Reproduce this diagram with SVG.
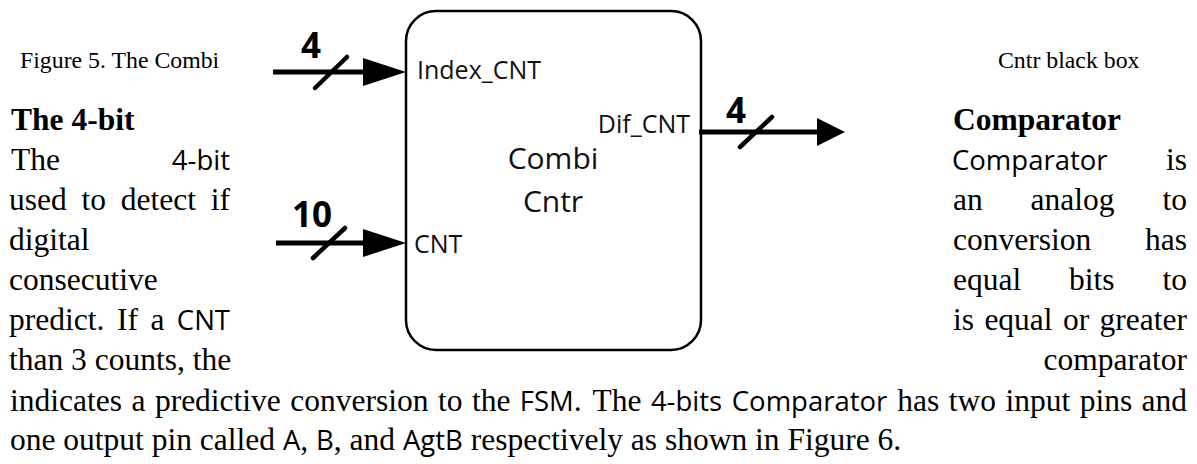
<svg xmlns="http://www.w3.org/2000/svg" width="1197" height="464" viewBox="0 0 1197 464">
  <style>
    .serif { font-family: "Liberation Serif", "Times New Roman", serif; font-size: 31.5px; fill: #000; }
    .bold { font-weight: bold; }
    .sans { font-family: "Open Sans", "Liberation Sans", sans-serif; font-size: 27.5px; }
    .caption { font-family: "Liberation Serif", "Times New Roman", serif; font-size: 23.8px; fill: #000; }
    .pin { font-family: "Open Sans", "Liberation Sans", sans-serif; font-size: 25px; fill: #111; }
    .title { font-family: "Open Sans", "Liberation Sans", sans-serif; font-size: 30px; fill: #111; text-anchor: middle; }
    .width { font-family: "Open Sans", "Liberation Sans", sans-serif; font-size: 35px; font-weight: bold; fill: #000; }
    .wire { stroke: #000; stroke-width: 5; fill: none; }
    .slash { stroke: #000; stroke-width: 4.5; stroke-linecap: round; fill: none; }
    .head { fill: #000; }
    .box { fill: #fff; stroke: #000; stroke-width: 2.5; }
    .end { text-anchor: end; }
  </style>

  <!-- surrounding page text -->
  <g id="page-text">
    <text class="caption" x="20" y="68">Figure 5. The Combi</text>
    <text class="caption" x="998" y="68">Cntr black box</text>

    <!-- left column -->
    <text class="serif bold" x="11" y="130">The 4-bit</text>
    <text class="serif" x="11" y="170">The</text>
    <text class="serif sans end" x="230" y="170">4-bit</text>
    <text class="serif" y="210"><tspan x="9">used</tspan><tspan x="81.5">to</tspan><tspan x="120.8">detect</tspan></text>
    <text class="serif end" x="230" y="210">if</text>
    <text class="serif" x="9" y="250">digital</text>
    <text class="serif" x="9" y="290">consecutive</text>
    <text class="serif" y="330"><tspan x="9">predict.</tspan><tspan x="117">If</tspan><tspan x="150.4">a</tspan></text>
    <text class="serif sans end" x="230" y="330">CNT</text>
    <text class="serif" x="9" y="370">than 3 counts, the</text>

    <!-- right column -->
    <text class="serif bold" x="953" y="130">Comparator</text>
    <text class="serif sans" x="952" y="170">Comparator</text>
    <text class="serif end" x="1187" y="170">is</text>
    <text class="serif" y="210"><tspan x="953">an</tspan><tspan x="1030.6">analog</tspan></text>
    <text class="serif end" x="1187" y="210">to</text>
    <text class="serif" x="953" y="250">conversion</text>
    <text class="serif end" x="1187" y="250">has</text>
    <text class="serif" y="290"><tspan x="953">equal</tspan><tspan x="1069">bits</tspan></text>
    <text class="serif end" x="1187" y="290">to</text>
    <text class="serif" y="330"><tspan x="953">is</tspan><tspan x="984.4">equal</tspan><tspan x="1063">or</tspan></text>
    <text class="serif end" x="1187" y="330">greater</text>
    <text class="serif end" x="1187" y="370">comparator</text>

    <!-- full-width lines -->
    <text class="serif" y="411"><tspan x="10">indicates</tspan><tspan x="131.4">a</tspan><tspan x="154.9">predictive</tspan><tspan x="290.3">conversion</tspan><tspan x="437.9">to</tspan><tspan x="471.9">the</tspan><tspan x="519.8" class="sans">FSM</tspan><tspan>.</tspan><tspan x="592.4">The</tspan><tspan x="650.9" class="sans">4-bits</tspan><tspan x="731.8" class="sans">Comparator</tspan><tspan x="897.3">has</tspan><tspan x="948.8">two</tspan><tspan x="1005.5">input</tspan><tspan x="1079.7">pins</tspan></text>
    <text class="serif end" x="1187" y="411">and</text>
    <text class="serif" x="10" y="450">one output pin called <tspan class="sans">A</tspan>, <tspan class="sans">B</tspan>, and <tspan class="sans">AgtB</tspan> respectively as shown in Figure 6.</text>
  </g>

  <!-- black box -->
  <g id="combi-cntr">
    <rect class="box" x="406" y="11" width="295" height="339" rx="30" ry="30"/>
    <text class="pin" x="417" y="79">Index_CNT</text>
    <text class="pin" x="414" y="253">CNT</text>
    <text class="pin end" x="690" y="133">Dif_CNT</text>
    <text class="title" x="553" y="169">Combi</text>
    <text class="title" x="553" y="212">Cntr</text>
  </g>

  <!-- bus connectors -->
  <g id="connectors">
    <g id="bus-index-cnt">
      <line class="wire" x1="273" y1="72" x2="366" y2="72"/>
      <polygon class="head" points="363,58 406,72 363,86"/>
      <line class="slash" x1="315" y1="88" x2="347" y2="57"/>
      <text class="width" x="301" y="58">4</text>
    </g>
    <g id="bus-cnt">
      <line class="wire" x1="276" y1="243" x2="366" y2="243"/>
      <polygon class="head" points="363,229 406,243 363,257"/>
      <line class="slash" x1="313" y1="258" x2="345" y2="228"/>
      <text class="width" x="292" y="227">10</text>
    </g>
    <g id="bus-dif-cnt">
      <line class="wire" x1="699" y1="132" x2="820" y2="132"/>
      <polygon class="head" points="817,118 845,132 817,146"/>
      <line class="slash" x1="740" y1="147" x2="772" y2="117"/>
      <text class="width" x="726" y="123">4</text>
    </g>
  </g>
</svg>
